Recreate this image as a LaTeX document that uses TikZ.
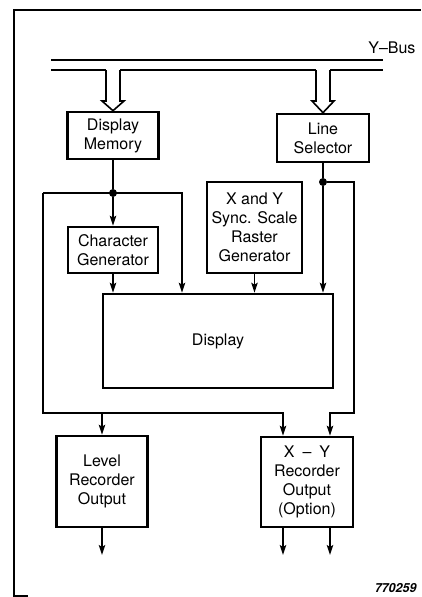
\documentclass[tikz,border=0pt]{standalone}
\usepackage{fontspec}
\setmainfont{TeX Gyre Heros}
\usetikzlibrary{arrows.meta}

\begin{document}
\begin{tikzpicture}[
	x=1pt, y=-1pt,
	blocco/.style={draw=black, line width=2.6pt, align=center,
		inner sep=0pt, font=\fontsize{16}{19}\selectfont},
	filo/.style={line width=1.6pt, black},
	freccia/.style={filo, -{Stealth[length=10pt, width=6.5pt, inset=2pt]}},
	cavo/.style={line width=1.6pt, black, fill=white,
		line join=miter},
	punto/.style={circle, fill=black, inner sep=0pt,
		minimum size=8pt},
	]
	\useasboundingbox (0,0) rectangle (421,597);
	\draw[line width=1.2pt](28,596)--(14,596)--(14,10)--(421,10);
	
	% blocchi
	\node[blocco, minimum width=91pt, minimum height=47pt]
	(dmem) at (113,135.5) {Display\\Memory};
	\node[blocco, minimum width=92pt, minimum height=48pt]
	(lsel) at (323,138) {Line\\Selector};
	\node[blocco, minimum width=90pt, minimum height=46pt]
	(cgen) at (113,250) {Character\\Generator};
	\node[blocco, minimum width=95pt, minimum height=91pt]
	(sync) at (254.5,227.5) {X and Y\\Sync. Scale\\Raster\\Generator};
	\node[blocco, minimum width=230pt, minimum height=94pt]
	(disp) at (218,341) {Display};
	\node[blocco, minimum width=91pt, minimum height=91pt]
	(lrec) at (102,481.5) {Level\\Recorder\\Output};
	\node[blocco, minimum width=92pt, minimum height=90pt]
	(xyrec) at (307,482) {X\enspace--\enspace Y\\Recorder\\Output\\(Option)};
	
	% bus
	\node[anchor=base east, font=\fontsize{16}{19}\selectfont]
	(ybus) at (419,53) {Y--Bus};
	\draw[filo](51,60)--(383,60);
	\draw[filo](51,70)--(106,70) (120,70)--(316,70) (330,70)--(383,70);
	\foreach \c/\n in {113/dmem, 323/lsel}
	\draw[cavo](\c-7,70)--(\c-7,101)--(\c-11,101)--(\n.north)
	--(\c+11,101)--(\c+7,101)--(\c+7,70);
	
	% collegamenti
	\node[punto] (dmdot) at (113,193) {};
	\node[punto] (lsdot) at (323,182) {};
	\coordinate (sx) at (43,193);
	\coordinate (dx) at (182,193);
	\coordinate (sb) at (43,413);
	\coordinate (db) at (283,413);
	\coordinate (lb) at (102,413);
	\coordinate (rx) at (354,182);
	\coordinate (rb) at (354,413);
	\coordinate (xb) at (330,413);
	\draw[filo](dmem.south)--(dmdot);
	\draw[freccia](dmdot)--(cgen.north);
	\draw[freccia](sx)--(dx)--(dx |- disp.north);
	\draw[freccia](sx)--(sb)--(db)--(db |- xyrec.north);
	\draw[freccia](lb)--(lrec.north);
	\draw[freccia](cgen.south)--(cgen.south |- disp.north);
	\draw[freccia](sync.south)--(sync.south |- disp.north);
	\draw[filo](lsel.south)--(lsdot);
	\draw[freccia](lsdot)--(lsdot |- disp.north);
	\draw[freccia](lsdot)--(rx)--(rb)--(xb)--(xb |- xyrec.north);
	
	% uscite
	\coordinate (lo) at (102,555);
	\coordinate (xo1) at (283,555);
	\coordinate (xo2) at (330,555);
	\draw[freccia](lrec.south)--(lo);
	\draw[freccia](xyrec.south -| xo1)--(xo1);
	\draw[freccia](xyrec.south -| xo2)--(xo2);
	
	\node[anchor=base east,
	font=\fontsize{12.5}{14}\selectfont\bfseries\itshape]
	(fignum) at (420,592) {770259};
\end{tikzpicture}
\end{document}
